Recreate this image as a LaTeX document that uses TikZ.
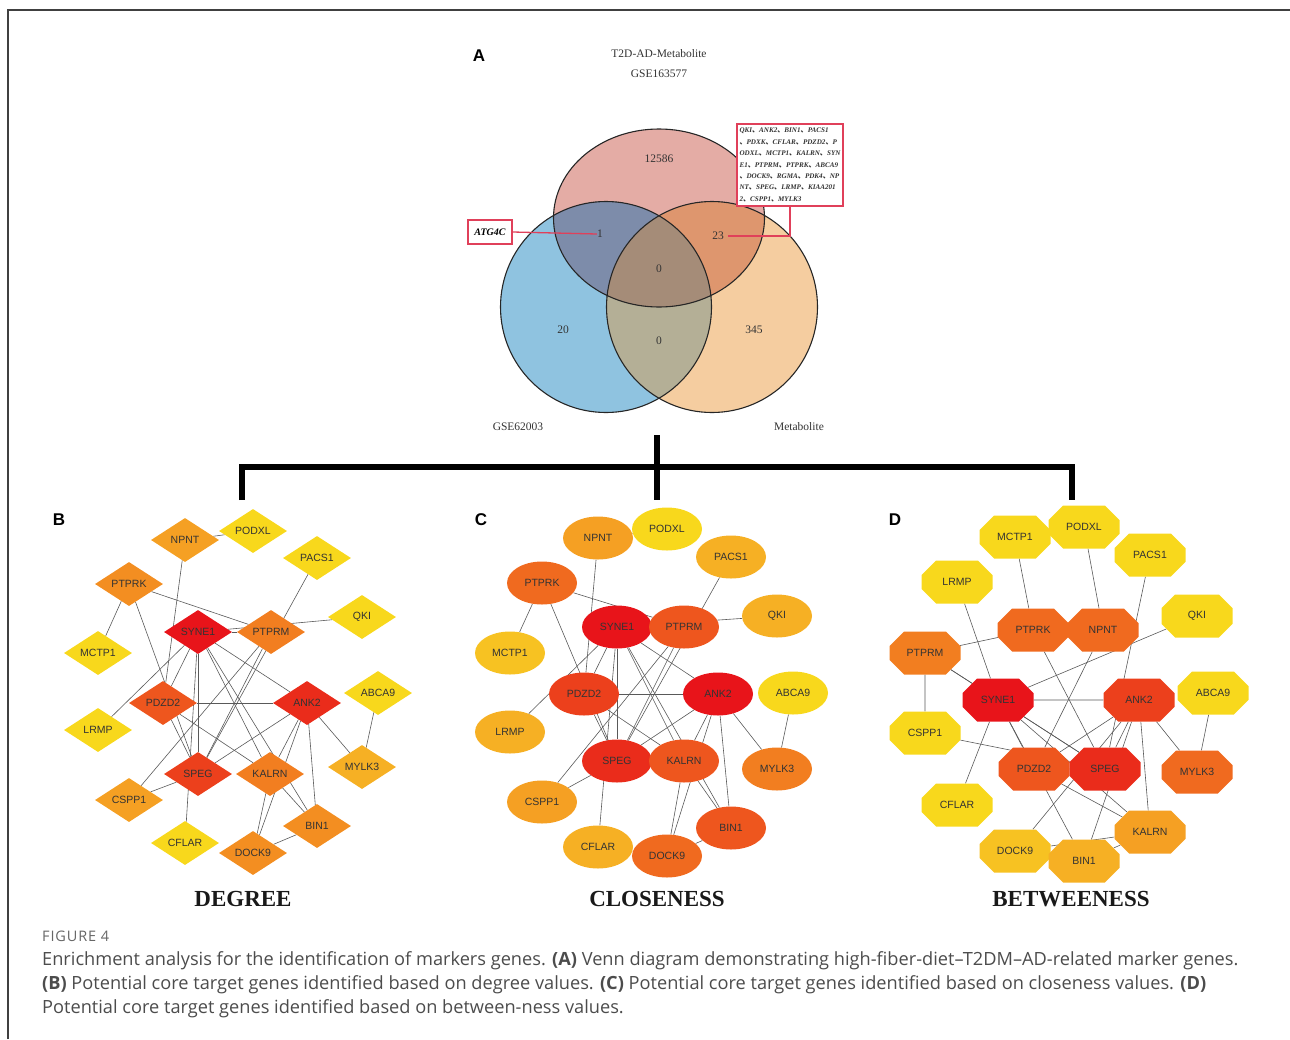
\documentclass[tikz,border=0pt]{standalone}
\usepackage{fontspec}
\setmainfont{Liberation Serif}
\setsansfont{Liberation Sans}
\newfontfamily\capfont{Open Sans}
\newfontfamily\cjkfont{Noto Sans CJK SC}
\usepackage{tikz}
\usetikzlibrary{shapes,arrows,backgrounds,positioning,fit}

\definecolor{heat0}{HTML}{E8141A}
\definecolor{heat1}{HTML}{EA2C1B}
\definecolor{heat2}{HTML}{EC401C}
\definecolor{heat3}{HTML}{EE561E}
\definecolor{heat4}{HTML}{F06A1F}
\definecolor{heat5}{HTML}{F27E20}
\definecolor{heat6}{HTML}{F38E21}
\definecolor{heat7}{HTML}{F5A023}
\definecolor{heat8}{HTML}{F6B024}
\definecolor{heat9}{HTML}{F7C222}
\definecolor{heatY}{HTML}{F8D81C}
\definecolor{vennPink}{HTML}{E4ACA5}
\definecolor{vennBlue}{HTML}{8FC3E0}
\definecolor{vennOrange}{HTML}{F5CDA0}
\definecolor{vennBluePink}{HTML}{7D8CAA}
\definecolor{vennPinkOrange}{HTML}{DE966E}
\definecolor{vennBlueOrange}{HTML}{B4AF96}
\definecolor{vennCore}{HTML}{A58C78}
\definecolor{callRed}{HTML}{E0405A}
\definecolor{inkGray}{HTML}{333333}

\newcommand{\dun}{{\cjkfont 、}}

\begin{document}
\begin{tikzpicture}[x=1pt,y=-1pt]
			\tikzstyle{Gene}	= [font=\sffamily\fontsize{10.5}{12}\selectfont, text=inkGray, inner sep=0pt]
			\tikzstyle{Diamond}	= [Gene, diamond, minimum width=68pt, minimum height=44pt]
			\tikzstyle{Oval}	= [Gene, ellipse, minimum width=70pt, minimum height=43pt]
			\tikzstyle{Octagon}	= [Gene, chamfered rectangle, chamfered rectangle xsep=15pt, chamfered rectangle ysep=11pt, minimum width=71pt, minimum height=43pt]
			\tikzstyle{H0}		= [fill=heat0]
			\tikzstyle{H1}		= [fill=heat1]
			\tikzstyle{H2}		= [fill=heat2]
			\tikzstyle{H3}		= [fill=heat3]
			\tikzstyle{H4}		= [fill=heat4]
			\tikzstyle{H5}		= [fill=heat5]
			\tikzstyle{H6}		= [fill=heat6]
			\tikzstyle{H7}		= [fill=heat7]
			\tikzstyle{H8}		= [fill=heat8]
			\tikzstyle{H9}		= [fill=heat9]
			\tikzstyle{HY}		= [fill=heatY]
			\tikzstyle{Link}	= [black!65, line width=0.6pt]
			\tikzstyle{VennLine}	= [black!85, line width=1.1pt]
			\tikzstyle{VennText}	= [font=\fontsize{11.5}{13}\selectfont, text=inkGray, inner sep=0pt]
			\tikzstyle{Callout}	= [callRed, line width=1.3pt]
			\tikzstyle{Bracket}	= [black, line width=6.5pt]
			\tikzstyle{Panel}	= [font=\sffamily\bfseries\fontsize{17}{17}\selectfont, inner sep=0pt]
			\tikzstyle{Title}	= [font=\bfseries\fontsize{23}{25}\selectfont, text=black!90, inner sep=0pt]
			\tikzstyle{Caption}	= [font=\capfont\fontsize{18.2}{20}\selectfont, text=black!70, anchor=base west, inner sep=0pt]

			\useasboundingbox (0,0) rectangle (1290,1039);
			\draw [black!75, line width=1.5pt] (8,1039) -- (8,10) -- (1290,10);

			% Venn diagram (A)
			\fill [vennPink] (659,218) ellipse [x radius=105.5pt, y radius=89pt];
			\fill [vennBlue] (606,307) circle [radius=105.5pt];
			\fill [vennOrange] (712,307) circle [radius=105.5pt];
			\begin{scope}
				\clip (606,307) circle [radius=105.5pt];
				\fill [vennBlueOrange] (712,307) circle [radius=105.5pt];
			\end{scope}
			\begin{scope}
				\clip (659,218) ellipse [x radius=105.5pt, y radius=89pt];
				\fill [vennBluePink] (606,307) circle [radius=105.5pt];
				\fill [vennPinkOrange] (712,307) circle [radius=105.5pt];
				\clip (606,307) circle [radius=105.5pt];
				\fill [vennCore] (712,307) circle [radius=105.5pt];
			\end{scope}
			\draw [VennLine] (659,218) ellipse [x radius=105.5pt, y radius=89pt];
			\draw [VennLine] (606,307) circle [radius=105.5pt];
			\draw [VennLine] (712,307) circle [radius=105.5pt];

			\node (pA) at (479,56) [Panel] {A};
			\node (setTop) at (659,54) [VennText] {T2D-AD-Metabolite};
			\node (setTop2) at (659,74) [VennText] {GSE163577};
			\node (setLeft) at (518,427) [VennText] {GSE62003};
			\node (setRight) at (799,427) [VennText] {Metabolite};
			\node (n12586) at (659,159) [VennText] {12586};
			\node (nOne) at (600,234) [VennText] {1};
			\node (n23) at (718,236) [VennText] {23};
			\node (nCore) at (659,269) [VennText] {0};
			\node (n20) at (563,330) [VennText] {20};
			\node (nLow) at (659,341) [VennText] {0};
			\node (n345) at (754,330) [VennText] {345};

			\node (atg) at (490,232) [draw=callRed, line width=1.3pt, fill=white, minimum width=44pt, minimum height=24pt, inner sep=0pt, font=\bfseries\itshape\fontsize{10}{12}\selectfont] {ATG4C};
			\node (genes) at (790,165) [draw=callRed, line width=1.3pt, fill=white, minimum width=106pt, minimum height=82pt, inner sep=2pt, align=left, text=inkGray, font=\bfseries\itshape\fontsize{7.1}{11.4}\selectfont] {QKI\dun ANK2\dun BIN1\dun PACS1\\ \dun PDXK\dun CFLAR\dun PDZD2\dun P\\ ODXL\dun MCTP1\dun KALRN\dun SYN\\ E1\dun PTPRM\dun PTPRK\dun ABCA9\\ \dun DOCK9\dun RGMA\dun PDK4\dun NP\\ NT\dun SPEG\dun LRMP\dun KIAA201\\ 2\dun CSPP1\dun MYLK3};
			\draw [Callout] (atg.east) -- (nOne.west);
			\draw [Callout] ([xshift=4pt]n23.east) -| (genes.south);

			% bracket to the three networks
			\coordinate (vennFoot) at (657,435);
			\coordinate (barL) at (242,467);
			\coordinate (barR) at (1072,467);
			\coordinate (bFoot) at (242,500);
			\coordinate (cFoot) at (657,500);
			\coordinate (dFoot) at (1072,500);
			\draw [Bracket] (bFoot) -- (barL) -- (barR) -- (dFoot);
			\draw [Bracket] (vennFoot) -- (cFoot);

			% network B: degree
			\node (pB) at (59,520) [Panel] {B};
			\node (bNPNT) at (185,540) [Diamond][H7] {NPNT};
			\node (bPODXL) at (253,531) [Diamond][HY] {PODXL};
			\node (bPACS1) at (317,558) [Diamond][HY] {PACS1};
			\node (bPTPRK) at (129,584) [Diamond][H6] {PTPRK};
			\node (bQKI) at (362,617) [Diamond][HY] {QKI};
			\node (bSYNE1) at (198,632) [Diamond][H0] {SYNE1};
			\node (bPTPRM) at (271,632) [Diamond][H5] {PTPRM};
			\node (bMCTP1) at (98,653) [Diamond][HY] {MCTP1};
			\node (bABCA9) at (378,693) [Diamond][HY] {ABCA9};
			\node (bPDZD2) at (163,703) [Diamond][H3] {PDZD2};
			\node (bANK2) at (307,703) [Diamond][H1] {ANK2};
			\node (bLRMP) at (98,730) [Diamond][HY] {LRMP};
			\node (bMYLK3) at (362,767) [Diamond][H8] {MYLK3};
			\node (bSPEG) at (198,774) [Diamond][H2] {SPEG};
			\node (bKALRN) at (270,774) [Diamond][H5] {KALRN};
			\node (bCSPP1) at (129,800) [Diamond][H7] {CSPP1};
			\node (bBIN1) at (317,826) [Diamond][H6] {BIN1};
			\node (bCFLAR) at (185,843) [Diamond][HY] {CFLAR};
			\node (bDOCK9) at (253,853) [Diamond][H6] {DOCK9};
			\node (tB) at (243,899) [Title] {DEGREE};

			% network C: closeness
			\node (pC) at (481,520) [Panel] {C};
			\node (cNPNT) at (598,538) [Oval][H7] {NPNT};
			\node (cPODXL) at (667,529) [Oval][HY] {PODXL};
			\node (cPACS1) at (731,557) [Oval][H8] {PACS1};
			\node (cPTPRK) at (542,583) [Oval][H4] {PTPRK};
			\node (cQKI) at (777,616) [Oval][H8] {QKI};
			\node (cSYNE1) at (617,627) [Oval][H0] {SYNE1};
			\node (cPTPRM) at (684,627) [Oval][H3] {PTPRM};
			\node (cMCTP1) at (510,653) [Oval][H9] {MCTP1};
			\node (cABCA9) at (793,693) [Oval][HY] {ABCA9};
			\node (cPDZD2) at (584,694) [Oval][H2] {PDZD2};
			\node (cANK2) at (718,694) [Oval][H0] {ANK2};
			\node (cLRMP) at (510,732) [Oval][H8] {LRMP};
			\node (cMYLK3) at (777,769) [Oval][H5] {MYLK3};
			\node (cSPEG) at (617,761) [Oval][H1] {SPEG};
			\node (cKALRN) at (684,761) [Oval][H3] {KALRN};
			\node (cCSPP1) at (542,802) [Oval][H7] {CSPP1};
			\node (cBIN1) at (731,828) [Oval][H3] {BIN1};
			\node (cCFLAR) at (598,847) [Oval][H8] {CFLAR};
			\node (cDOCK9) at (667,856) [Oval][H4] {DOCK9};
			\node (tC) at (657,899) [Title] {CLOSENESS};

			% network D: betweenness
			\node (pD) at (895,520) [Panel] {D};
			\node (dMCTP1) at (1015,537) [Octagon][HY] {MCTP1};
			\node (dPODXL) at (1084,527) [Octagon][HY] {PODXL};
			\node (dPACS1) at (1150,555) [Octagon][HY] {PACS1};
			\node (dLRMP) at (957,582) [Octagon][HY] {LRMP};
			\node (dQKI) at (1197,616) [Octagon][HY] {QKI};
			\node (dPTPRK) at (1033,630) [Octagon][H4] {PTPRK};
			\node (dNPNT) at (1103,630) [Octagon][H4] {NPNT};
			\node (dPTPRM) at (925,653) [Octagon][H5] {PTPRM};
			\node (dSYNE1) at (998,700) [Octagon][H0] {SYNE1};
			\node (dANK2) at (1139,700) [Octagon][H2] {ANK2};
			\node (dABCA9) at (1213,693) [Octagon][HY] {ABCA9};
			\node (dCSPP1) at (925,733) [Octagon][HY] {CSPP1};
			\node (dPDZD2) at (1034,769) [Octagon][H3] {PDZD2};
			\node (dSPEG) at (1105,769) [Octagon][H1] {SPEG};
			\node (dMYLK3) at (1197,772) [Octagon][H4] {MYLK3};
			\node (dCFLAR) at (957,805) [Octagon][HY] {CFLAR};
			\node (dKALRN) at (1150,832) [Octagon][H7] {KALRN};
			\node (dDOCK9) at (1015,851) [Octagon][H9] {DOCK9};
			\node (dBIN1) at (1084,861) [Octagon][H8] {BIN1};
			\node (tD) at (1071,899) [Title] {BETWEENESS};

			\begin{scope}[on background layer]
			% edges B
			\draw [-] (bNPNT) to (bPODXL) [Link];
			\draw [-] (bNPNT) to (bPDZD2) [Link];
			\draw [-] (bPACS1) to (bSPEG) [Link];
			\draw [-] (bMCTP1) to (bPTPRK) [Link];
			\draw [-] (bPTPRK) to (bPTPRM) [Link];
			\draw [-] (bPTPRK) to (bSPEG) [Link];
			\draw [-] (bQKI) to (bSYNE1) [Link];
			\draw [-] (bLRMP) to (bSYNE1) [Link];
			\draw [-] (bCFLAR) to (bSYNE1) [Link];
			\draw [-] (bSYNE1) to (bPTPRM) [Link];
			\draw [-] (bSYNE1) to (bPDZD2) [Link];
			\draw [-] (bSYNE1) to (bSPEG) [Link];
			\draw [-] (bSYNE1) to (bKALRN) [Link];
			\draw [-] (bSYNE1) to (bANK2) [Link];
			\draw [-] (bSYNE1) to (bBIN1) [Link];
			\draw [-] (bPTPRM) to (bSPEG) [Link];
			\draw [-] (bPTPRM) to (bCSPP1) [Link];
			\draw [-] (bPDZD2) to (bANK2) [Link];
			\draw [-] (bPDZD2) to (bSPEG) [Link];
			\draw [-] (bPDZD2) to (bKALRN) [Link];
			\draw [-] (bANK2) to (bSPEG) [Link];
			\draw [-] (bANK2) to (bKALRN) [Link];
			\draw [-] (bANK2) to (bDOCK9) [Link];
			\draw [-] (bANK2) to (bBIN1) [Link];
			\draw [-] (bANK2) to (bMYLK3) [Link];
			\draw [-] (bABCA9) to (bMYLK3) [Link];
			\draw [-] (bCSPP1) to (bSPEG) [Link];
			\draw [-] (bKALRN) to (bDOCK9) [Link];
			\draw [-] (bBIN1) to (bDOCK9) [Link];
			\draw [-] (bKALRN) to (bBIN1) [Link];
			% edges C
			\draw [-] (cNPNT) to (cPODXL) [Link];
			\draw [-] (cNPNT) to (cPDZD2) [Link];
			\draw [-] (cPACS1) to (cSPEG) [Link];
			\draw [-] (cMCTP1) to (cPTPRK) [Link];
			\draw [-] (cPTPRK) to (cPTPRM) [Link];
			\draw [-] (cPTPRK) to (cSPEG) [Link];
			\draw [-] (cQKI) to (cSYNE1) [Link];
			\draw [-] (cLRMP) to (cSYNE1) [Link];
			\draw [-] (cCFLAR) to (cSYNE1) [Link];
			\draw [-] (cSYNE1) to (cPTPRM) [Link];
			\draw [-] (cSYNE1) to (cPDZD2) [Link];
			\draw [-] (cSYNE1) to (cSPEG) [Link];
			\draw [-] (cSYNE1) to (cKALRN) [Link];
			\draw [-] (cSYNE1) to (cANK2) [Link];
			\draw [-] (cSYNE1) to (cBIN1) [Link];
			\draw [-] (cPTPRM) to (cSPEG) [Link];
			\draw [-] (cPTPRM) to (cCSPP1) [Link];
			\draw [-] (cPDZD2) to (cANK2) [Link];
			\draw [-] (cPDZD2) to (cSPEG) [Link];
			\draw [-] (cPDZD2) to (cKALRN) [Link];
			\draw [-] (cANK2) to (cSPEG) [Link];
			\draw [-] (cANK2) to (cKALRN) [Link];
			\draw [-] (cANK2) to (cDOCK9) [Link];
			\draw [-] (cANK2) to (cBIN1) [Link];
			\draw [-] (cANK2) to (cMYLK3) [Link];
			\draw [-] (cABCA9) to (cMYLK3) [Link];
			\draw [-] (cCSPP1) to (cSPEG) [Link];
			\draw [-] (cKALRN) to (cDOCK9) [Link];
			\draw [-] (cBIN1) to (cDOCK9) [Link];
			\draw [-] (cKALRN) to (cBIN1) [Link];
			% edges D
			\draw [-] (dNPNT) to (dPODXL) [Link];
			\draw [-] (dNPNT) to (dPDZD2) [Link];
			\draw [-] (dPACS1) to (dSPEG) [Link];
			\draw [-] (dMCTP1) to (dPTPRK) [Link];
			\draw [-] (dPTPRK) to (dPTPRM) [Link];
			\draw [-] (dPTPRK) to (dSPEG) [Link];
			\draw [-] (dQKI) to (dSYNE1) [Link];
			\draw [-] (dLRMP) to (dSYNE1) [Link];
			\draw [-] (dCFLAR) to (dSYNE1) [Link];
			\draw [-] (dSYNE1) to (dPTPRM) [Link];
			\draw [-] (dSYNE1) to (dPDZD2) [Link];
			\draw [-] (dSYNE1) to (dSPEG) [Link];
			\draw [-] (dSYNE1) to (dKALRN) [Link];
			\draw [-] (dSYNE1) to (dANK2) [Link];
			\draw [-] (dSYNE1) to (dBIN1) [Link];
			\draw [-] (dPTPRM) to (dSPEG) [Link];
			\draw [-] (dPTPRM) to (dCSPP1) [Link];
			\draw [-] (dPDZD2) to (dANK2) [Link];
			\draw [-] (dPDZD2) to (dSPEG) [Link];
			\draw [-] (dPDZD2) to (dKALRN) [Link];
			\draw [-] (dANK2) to (dSPEG) [Link];
			\draw [-] (dANK2) to (dKALRN) [Link];
			\draw [-] (dANK2) to (dDOCK9) [Link];
			\draw [-] (dANK2) to (dBIN1) [Link];
			\draw [-] (dANK2) to (dMYLK3) [Link];
			\draw [-] (dABCA9) to (dMYLK3) [Link];
			\draw [-] (dCSPP1) to (dSPEG) [Link];
			\draw [-] (dKALRN) to (dDOCK9) [Link];
			\draw [-] (dBIN1) to (dDOCK9) [Link];
			\draw [-] (dKALRN) to (dBIN1) [Link];
			\end{scope}

			% caption
			\node (figNo) at (42,941) [Caption, font=\capfont\fontsize{14.5}{16}\addfontfeature{LetterSpace=6}\selectfont, text=black!60] {FIGURE 4};
			\node (cap1) at (42,965) [Caption] {Enrichment analysis for the identification of markers genes. \textbf{(A)} Venn diagram demonstrating high-fiber-diet–T2DM–AD-related marker genes.};
			\node (cap2) at (42,989) [Caption] {\textbf{(B)} Potential core target genes identified based on degree values. \textbf{(C)} Potential core target genes identified based on closeness values. \textbf{(D)}};
			\node (cap3) at (42,1013) [Caption] {Potential core target genes identified based on between-ness values.};
		\end{tikzpicture}
\end{document}
